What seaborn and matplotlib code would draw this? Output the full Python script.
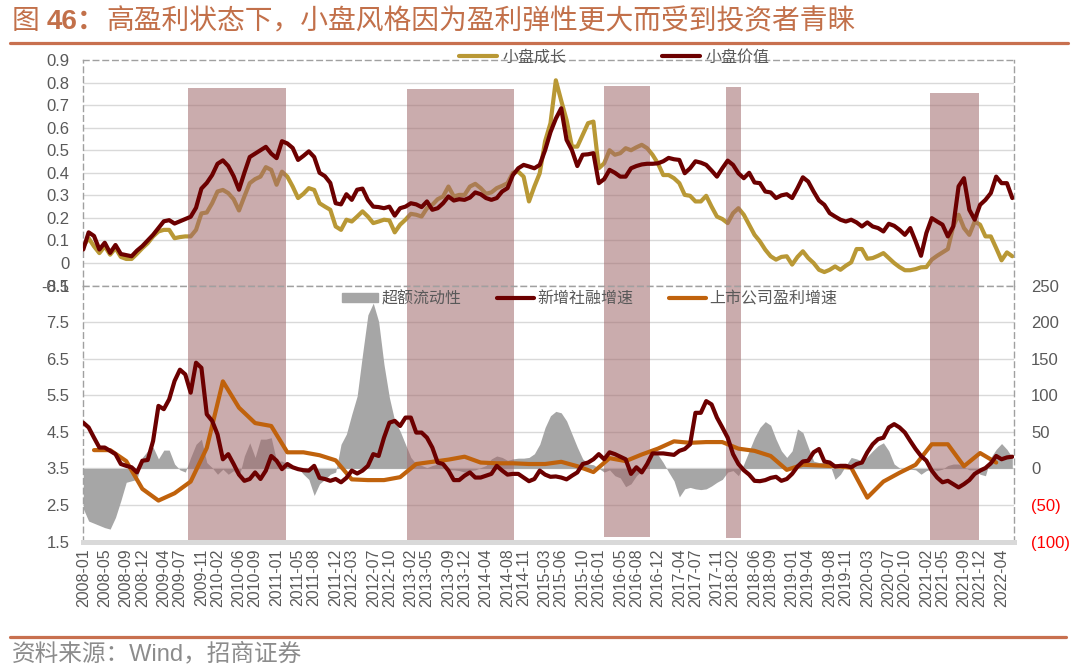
import numpy as np
import matplotlib
matplotlib.use("Agg")
import matplotlib.pyplot as plt
import seaborn as sns
from matplotlib.lines import Line2D
from matplotlib.patches import Patch

# x-axis labels (every few months)
tick_labels = ["2008-01", "2008-05", "2008-09", "2008-12", "2009-04", "2009-07", "2009-11",
               "2010-02", "2010-06", "2010-09", "2011-01", "2011-05", "2011-08", "2011-12",
               "2012-03", "2012-07", "2012-10", "2013-02", "2013-05", "2013-09", "2013-12",
               "2014-04", "2014-08", "2014-11", "2015-03", "2015-06", "2015-10", "2016-01",
               "2016-05", "2016-08", "2016-12", "2017-04", "2017-07", "2017-11", "2018-02",
               "2018-06", "2018-09", "2019-01", "2019-04", "2019-08", "2019-11", "2020-03",
               "2020-07", "2020-10", "2021-02", "2021-05", "2021-09", "2021-12", "2022-04"]

# monthly series, 2008-01 .. 2022-06
small_value = [0.06, 0.136, 0.12, 0.06, 0.09, 0.045, 0.08, 0.04, 0.035, 0.03,
               0.055, 0.075, 0.10, 0.125, 0.155, 0.185, 0.19, 0.175, 0.185, 0.195,
               0.205, 0.245, 0.33, 0.355, 0.39, 0.44, 0.455, 0.43, 0.385, 0.325,
               0.40, 0.47, 0.485, 0.50, 0.515, 0.485, 0.465, 0.54, 0.53, 0.51,
               0.457, 0.475, 0.495, 0.47, 0.40, 0.385, 0.355, 0.265, 0.26, 0.305,
               0.28, 0.325, 0.33, 0.28, 0.25, 0.248, 0.243, 0.25, 0.21, 0.243,
               0.25, 0.265, 0.26, 0.248, 0.273, 0.236, 0.243, 0.265, 0.295, 0.277,
               0.283, 0.28, 0.29, 0.313, 0.305, 0.288, 0.28, 0.288, 0.317, 0.332,
               0.39, 0.42, 0.435, 0.428, 0.42, 0.435, 0.50, 0.58, 0.64, 0.686,
               0.546, 0.50, 0.43, 0.48, 0.482, 0.487, 0.354, 0.372, 0.413, 0.40,
               0.383, 0.383, 0.42, 0.43, 0.437, 0.44, 0.44, 0.442, 0.451, 0.466,
               0.46, 0.457, 0.398, 0.42, 0.451, 0.445, 0.435, 0.41, 0.383, 0.42,
               0.454, 0.435, 0.398, 0.376, 0.40, 0.357, 0.354, 0.317, 0.313, 0.288,
               0.30, 0.305, 0.288, 0.332, 0.38, 0.361, 0.317, 0.277, 0.258, 0.221,
               0.206, 0.192, 0.184, 0.192, 0.18, 0.162, 0.18, 0.162, 0.155, 0.14,
               0.174, 0.165, 0.147, 0.125, 0.155, 0.096, 0.032, 0.133, 0.199, 0.184,
               0.17, 0.118, 0.162, 0.34, 0.376, 0.236, 0.192, 0.258, 0.28, 0.31,
               0.383, 0.354, 0.354, 0.288]

small_growth = [0.074, 0.11, 0.074, 0.044, 0.074, 0.037, 0.066, 0.027, 0.018, 0.018,
                0.041, 0.066, 0.088, 0.118, 0.14, 0.147, 0.147, 0.11, 0.115, 0.118,
                0.118, 0.147, 0.22, 0.224, 0.265, 0.317, 0.324, 0.31, 0.283, 0.233,
                0.295, 0.354, 0.372, 0.383, 0.425, 0.413, 0.347, 0.405, 0.383, 0.339,
                0.288, 0.307, 0.332, 0.324, 0.265, 0.25, 0.236, 0.162, 0.147, 0.192,
                0.184, 0.206, 0.229, 0.206, 0.177, 0.184, 0.192, 0.189, 0.136, 0.17,
                0.192, 0.218, 0.214, 0.206, 0.243, 0.258, 0.283, 0.295, 0.339, 0.295,
                0.302, 0.302, 0.339, 0.351, 0.332, 0.307, 0.313, 0.332, 0.342, 0.354,
                0.40, 0.405, 0.383, 0.273, 0.339, 0.398, 0.54, 0.62, 0.81, 0.72,
                0.634, 0.516, 0.516, 0.568, 0.62, 0.627, 0.42, 0.442, 0.50, 0.48,
                0.487, 0.509, 0.50, 0.513, 0.524, 0.509, 0.48, 0.442, 0.39, 0.39,
                0.376, 0.354, 0.302, 0.298, 0.273, 0.273, 0.298, 0.25, 0.206, 0.195,
                0.177, 0.221, 0.243, 0.214, 0.17, 0.125, 0.096, 0.059, 0.03, 0.015,
                0.027, 0.03, -0.007, 0.027, 0.052, 0.022, 0.0, -0.03, -0.04, -0.03,
                -0.015, -0.03, -0.012, 0.003, 0.062, 0.062, 0.019, 0.022, 0.032, 0.044,
                0.022, 0.0, -0.018, -0.032, -0.032, -0.027, -0.019, -0.018, 0.015, 0.032,
                0.047, 0.062, 0.162, 0.214, 0.155, 0.125, 0.184, 0.17, 0.118, 0.118,
                0.066, 0.012, 0.047, 0.03]

tsf_growth = [4.75, 4.62, 4.34, 4.07, 4.07, 3.98, 3.89, 3.62, 3.57, 3.53,
              3.39, 3.71, 3.73, 4.25, 5.21, 5.12, 5.39, 5.89, 6.2, 6.07,
              5.57, 6.39, 6.25, 4.98, 4.8, 4.43, 3.75, 3.89, 3.62, 3.33,
              3.16, 3.21, 3.39, 3.21, 3.44, 3.84, 3.71, 3.48, 3.62, 3.53,
              3.48, 3.45, 3.44, 3.57, 3.24, 3.21, 3.16, 3.21, 3.12, 3.24,
              3.44, 3.36, 3.44, 3.57, 3.89, 3.84, 4.34, 4.75, 4.8, 4.66,
              4.89, 4.89, 4.48, 4.48, 4.34, 4.07, 3.66, 3.62, 3.44, 3.18,
              3.18, 3.3, 3.39, 3.25, 3.25, 3.3, 3.35, 3.57, 3.44, 3.33,
              3.35, 3.35, 3.25, 3.15, 3.21, 3.44, 3.33, 3.27, 3.28, 3.25,
              3.2, 3.3, 3.39, 3.62, 3.66, 3.75, 3.89, 3.75, 3.94, 3.89,
              3.82, 3.75, 3.35, 3.53, 3.39, 3.62, 3.91, 3.91, 3.91, 3.89,
              3.87, 3.98, 4.03, 4.16, 5.02, 5.02, 5.34, 5.25, 4.89, 4.62,
              4.34, 3.89, 3.62, 3.45, 3.33, 3.16, 3.15, 3.18, 3.24, 3.27,
              3.16, 3.21, 3.35, 3.55, 3.69, 3.71, 3.94, 4.03, 3.69, 3.66,
              3.55, 3.57, 3.57, 3.53, 3.62, 3.66, 3.94, 4.16, 4.3, 4.34,
              4.62, 4.71, 4.62, 4.48, 4.25, 4.03, 3.84, 3.71, 3.44, 3.25,
              3.12, 3.16, 3.07, 2.98, 3.07, 3.18, 3.35, 3.44, 3.51, 3.64,
              3.84, 3.75, 3.8, 3.82]

excess_liquidity = [-55, -72, -75, -78, -81, -83, -67, -44, -19, -17,
                    -15, 15, 24, 29, 13, 25, 25, 6, -2, -5,
                    15, 33, 40, 8, 1, -8, -1, -8, -3, -12,
                    17, 35, 15, 40, 40, 42, 10, 10, 6, 4,
                    0.5, -8, -15, -37, -21, -15, -8, -5, 33, 47,
                    74, 99, 156, 210, 226, 201, 142, 97, 65, 51,
                    33, 15, 6, 4, 1, 4, 6, 4, -2, -2,
                    -3, -5, -3, -2, 1, 4, 13, 17, 15, 11,
                    13, 14, 14, 15, 20, 33, 56, 72, 78, 76,
                    65, 47, 29, 13, 6, 5, 0, -5, -2, -10,
                    -13, -25, -21, -10, -3, 6, 20, 19, 8, -5,
                    -17, -39, -28, -26, -28, -29, -28, -24, -19, -15,
                    -5, -3, -10, 6, 24, 42, 56, 64, 59, 40,
                    24, 15, 24, 54, 49, 29, 10, 8, 8, 6,
                    -15, -8, 4, 15, 13, 10, 16, 24, 31, 35,
                    24, 6, 0.5, -3, -1, -2, -8, -3, -1, -3,
                    -1, 4, 6, 6, 2, -2, -2, -8, -10, 15,
                    26, 34, 26, 15]

# quarterly series (2008-03 .. 2022-03), month index of each quarter end
profit_months = list(range(2, 171, 3))
profit_growth = [25, 25, 10, -28, -44, -34, -18, 28, 119, 83,
                 62, 58, 22, 22, 18, 11, -15, -16, -16, -12,
                 6, 9, 12, 16, 8, 7, 7, 6, 6, 9,
                 3, -5, 14, 10, 19, 27, 37, 35, 36, 36,
                 27, 24, 17, -2, 5, 4, 3, 1, -40, -18,
                 -6, 5, 33, 33, 3, 21, 8]

# shaded periods (month index) and their vertical extent
shade_start = [19.5, 60.2, 97.0, 119.7, 157.6]
shade_end = [37.8, 80.3, 105.6, 122.5, 166.8]
shade_top = [0.777, 0.770, 0.785, 0.779, 0.752]
shade_bottom = [1.55, 1.5, 1.62, 1.59, 1.5]

months = np.arange(len(small_value))
tick_pos = [(int(s[:4]) - 2008) * 12 + int(s[5:]) - 1 for s in tick_labels]

sns.set_theme(style="white")
plt.rcParams['font.family'] = ['Liberation Sans', 'Noto Sans CJK SC']
plt.rcParams['axes.unicode_minus'] = False

GOLD = '#B99835'
DRED = '#6C0000'
ORANGE = '#C0620C'
GREY = '#A6A6A6'
SHADE = '#A0686A'
TXT = '#595959'
GRID = '#D9D9D9'
BORDER = '#A0A0A0'

fig = plt.figure(figsize=(10.8, 6.66), dpi=100)
ax_top = fig.add_axes([0.0771, 0.5712, 0.8622, 0.3387])
ax_bot = fig.add_axes([0.0771, 0.1869, 0.8622, 0.3843])
ax_left = ax_bot.twinx()

xmax = 173.4

# ---- top panel
for v in np.arange(0, 0.85, 0.1):
    ax_top.axhline(v, color=GRID, lw=1, zorder=0)
sns.lineplot(x=months, y=small_growth, ax=ax_top, color=GOLD, lw=3, zorder=2, legend=False)
for s, e, t in zip(shade_start, shade_end, shade_top):
    ax_top.axvspan(s, e, ymin=0, ymax=(t + 0.1) / 1.0, color=SHADE, alpha=0.55, lw=0, zorder=3)
sns.lineplot(x=months, y=small_value, ax=ax_top, color=DRED, lw=3, zorder=4, legend=False)
ax_top.set_xlim(0, xmax)
ax_top.set_ylim(-0.1, 0.9)
yt = np.round(np.arange(-0.1, 0.91, 0.1), 1)
ax_top.set_yticks(yt)
ax_top.set_yticklabels(['0' if v == 0 else '%.1f' % v for v in yt])
ax_top.set_xticks([])
ax_top.set_xlabel('')
ax_top.set_ylabel('')
ax_top.tick_params(axis='y', labelsize=12, colors=TXT, length=0, pad=10)
for sp in ax_top.spines.values():
    sp.set_visible(True)
    sp.set_linestyle((0, (4, 3)))
    sp.set_color(BORDER)
    sp.set_linewidth(1)

ax_top.legend([Line2D([], [], color=GOLD, lw=3), Line2D([], [], color=DRED, lw=3)],
              ['小盘成长', '小盘价值'], loc='center', bbox_to_anchor=(0.570, 1.013),
              ncol=2, frameon=False, handlelength=2.4, handletextpad=0.3,
              columnspacing=6, fontsize=11.5, labelcolor=TXT)

# ---- bottom panel (right scale on ax_bot, left scale on twin)
for v in range(-50, 201, 50):
    ax_bot.axhline(v, color=GRID, lw=1, zorder=0)
ax_bot.fill_between(months, 0, excess_liquidity, color=GREY, lw=0, zorder=1)
for s, e, b in zip(shade_start, shade_end, shade_bottom):
    ax_bot.axvspan(s, e, ymin=(b - 1.5) / 7, ymax=1, color=SHADE, alpha=0.55, lw=0, zorder=2)
sns.lineplot(x=profit_months, y=profit_growth, ax=ax_bot, color=ORANGE, lw=3, zorder=3, legend=False)
ax_bot.set_ylim(-100, 250)
ax_bot.set_xlim(0, xmax)
rt = list(range(-100, 251, 50))
ax_bot.set_yticks(rt)
ax_bot.set_yticklabels(['(%d)' % -v if v < 0 else str(v) for v in rt])
ax_bot.yaxis.tick_right()
ax_bot.tick_params(axis='y', labelsize=12, colors=TXT, length=0, pad=12)
for lab, v in zip(ax_bot.get_yticklabels(), rt):
    lab.set_color('#FF0000' if v < 0 else TXT)
ax_bot.set_xticks(tick_pos)
ax_bot.set_xticklabels(tick_labels, rotation=90)
ax_bot.tick_params(axis='x', labelsize=11.5, colors=TXT, length=0, pad=5)
ax_bot.set_xlabel('')
ax_bot.set_ylabel('')

sns.lineplot(x=months, y=tsf_growth, ax=ax_left, color=DRED, lw=3, zorder=4, legend=False)
ax_left.set_ylim(1.5, 8.5)
ax_left.set_xlim(0, xmax)
lt = np.arange(1.5, 8.6, 1.0)
ax_left.set_yticks(lt)
ax_left.set_yticklabels(['%.1f' % v for v in lt])
ax_left.yaxis.tick_left()
ax_left.tick_params(axis='y', labelsize=12, colors=TXT, length=0, pad=10)
ax_left.set_ylabel('')
for sp in ax_left.spines.values():
    sp.set_visible(False)

for name in ['left', 'right', 'top']:
    sp = ax_bot.spines[name]
    sp.set_visible(True)
    sp.set_linestyle((0, (4, 3)))
    sp.set_color(BORDER)
    sp.set_linewidth(1)
ax_bot.spines['bottom'].set_color(GRID)
ax_bot.spines['bottom'].set_linewidth(3.6)

ax_left.legend([Patch(color=GREY), Line2D([], [], color=DRED, lw=3), Line2D([], [], color=ORANGE, lw=3)],
               ['超额流动性', '新增社融增速', '上市公司盈利增速'], loc='center',
               bbox_to_anchor=(0.5436, 0.948), ncol=3, frameon=False, handlelength=2.3,
               handleheight=0.5, handletextpad=0.2, columnspacing=2.25, fontsize=11.5,
               labelcolor=TXT)

# ---- title, rules and source
TITLE_C = '#C2704A'
t1 = fig.text(12 / 1080, 1 - 22 / 666, '图', fontsize=20, color=TITLE_C, va='center', ha='left')
t2 = ax_top.annotate('46：', xy=(1, 0.5), xycoords=t1, xytext=(5, 0), textcoords='offset points',
                     fontsize=20, fontweight='bold', color=TITLE_C, va='center', ha='left',
                     annotation_clip=False)
ax_top.annotate('高盈利状态下，小盘风格因为盈利弹性更大而受到投资者青睐', xy=(1, 0.5), xycoords=t2,
                xytext=(1, 0), textcoords='offset points', fontsize=20, color=TITLE_C,
                va='center', ha='left', annotation_clip=False)

fig.add_artist(Line2D([10 / 1080, 1068 / 1080], [1 - 42.7 / 666] * 2, color='#C8704F', lw=2.3))
fig.add_artist(Line2D([10 / 1080, 1066 / 1080], [1 - 637 / 666] * 2, color='#C8704F', lw=2.3))
fig.text(12 / 1080, 1 - 654 / 666, '资料来源：Wind，招商证券', fontsize=17, color='#8C8C8C',
         va='center', ha='left')

fig.savefig('out.png', dpi=100)
